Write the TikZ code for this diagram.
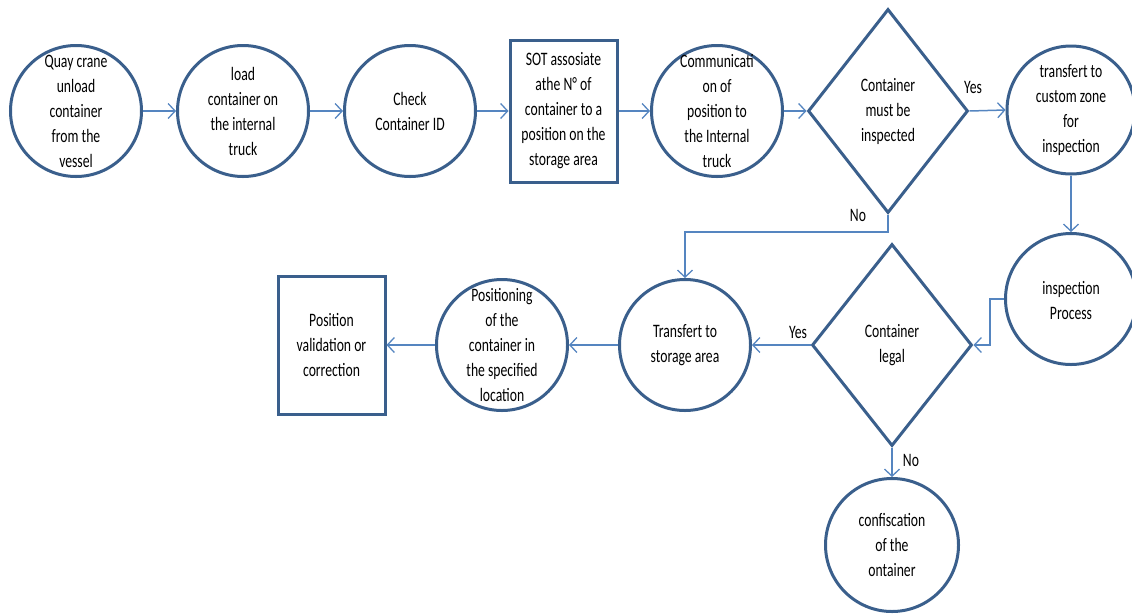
\documentclass[tikz,border=0pt]{standalone}
\usepackage{fontspec}
\setmainfont{Carlito}[FakeStretch=0.72]
\usetikzlibrary{shapes.geometric,arrows.meta}
\definecolor{outl}{HTML}{3A5F8C}
\definecolor{conn}{HTML}{5585C0}
\begin{document}
\begin{tikzpicture}[x=1pt,y=-1pt,
  proc/.style={circle,draw=outl,line width=3pt,minimum size=131pt,inner sep=0pt},
  boxnode/.style={rectangle,draw=outl,line width=3pt,inner sep=0pt,minimum width=107pt},
  dec/.style={diamond,draw=outl,line width=3pt,inner sep=0pt,minimum width=160pt,minimum height=204pt},
  txt/.style={align=center,font=\fontsize{19}{25}\selectfont,inner sep=0pt},
  lbl/.style={font=\fontsize{19}{25}\selectfont,inner sep=0pt},
  flow/.style={draw=conn,line width=1.5pt,-{Straight Barb[length=7pt,width=15pt,line width=1.3pt]}}
]
\useasboundingbox (0,0) rectangle (1132,614);

% shapes
\node[proc] (c1) at (76,111) {};
\node[proc] (c2) at (243,111) {};
\node[proc] (c3) at (410,111) {};
\node[boxnode,minimum height=142pt] (r4) at (563.5,111) {};
\node[proc] (c5) at (717,111) {};
\node[dec] (d6) at (888,111) {};
\node[proc,minimum size=128pt] (c7) at (1071,110) {};
\node[proc] (c8) at (1071,299) {};
\node[dec,minimum width=160pt,minimum height=202pt] (d9) at (892,345) {};
\node[proc] (c10) at (685,345) {};
\node[proc] (c11) at (502,345) {};
\node[boxnode,minimum height=138pt] (r12) at (331.5,345) {};
\node[proc,minimum size=133pt] (c13) at (892,545) {};

% texts
\node[txt] (t1) at (c1.center) {Quay crane\\unload\\container\\from the\\vessel};
\node[txt] (t2) at (c2.center) {load\\container on\\the internal\\truck};
\node[txt] (t3) at (c3.center) {Check\\Container ID};
\node[txt] (t4) at (r4.center) {SOT assosiate\\athe N° of\\container to a\\position on the\\storage area};
\node[txt] (t5) at (c5.center) {Communicati\\on of\\position to\\the Internal\\truck};
\node[txt] (t6) at (d6.center) {Container\\must be\\inspected};
\node[txt] (t7) at (c7.center) {transfert to\\custom zone\\for\\inspection};
\node[txt] (t8) at (1071,300) {inspection\\Process};
\node[txt] (t9) at (d9.center) {Container\\legal};
\node[txt] (t10) at (c10.center) {Transfert to\\storage area};
\node[txt] (t11) at (c11.center) {Positioning\\of the\\container in\\the specified\\location};
\node[txt] (t12) at (r12.center) {Position\\validation or\\correction};
\node[txt] (t13) at (c13.center) {confiscation\\of the\\ontainer};

% connectors
\draw[flow] (c1) -- (c2);
\draw[flow] (c2) -- (c3);
\draw[flow] (c3) -- (r4.west |- c3.east);
\draw[flow] (r4.east |- c5.west) -- (c5.west);
\draw[flow] (c5.east) -- (d6.west);
\draw[flow] (d6.east) -- (c7.west);
\coordinate (n1) at (888,232);
\coordinate (n2) at (685,232);
\draw[flow] (d6.south) -- (n1) -- (n2) -- (c10.north);
\draw[flow] (c7.south) -- (c8.north);
\coordinate (i1) at (990,299);
\coordinate (i2) at (990,345);
\draw[flow] (c8.west) -- (i1) -- (i2) -- (d9.east);
\draw[flow] (d9.west) -- (c10.east);
\draw[flow] (c10.west) -- (c11.east);
\draw[flow] (c11.west) -- (r12.east);
\draw[flow] (d9.south) -- (c13.north);

% labels
\node[lbl] (y1) at (973,87) {Yes};
\node[lbl] (no1) at (858,215) {No};
\node[lbl] (y2) at (798,332) {Yes};
\node[lbl] (no2) at (911,460) {No};
\end{tikzpicture}
\end{document}
